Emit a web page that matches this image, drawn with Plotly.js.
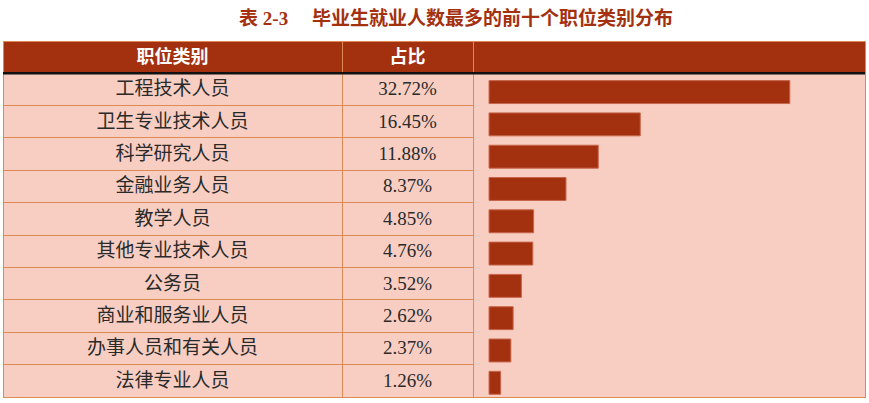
<!DOCTYPE html>
<html>
<head>
<meta charset="utf-8">
<script src="https://cdn.plot.ly/plotly-3.0.1.min.js"></script>
<style>html,body{margin:0;padding:0;background:#fff;}#chart{width:869px;height:403px;}</style>
</head>
<body>
<div id="chart"></div>
<script>
var categories = ['工程技术人员','卫生专业技术人员','科学研究人员','金融业务人员','教学人员','其他专业技术人员','公务员','商业和服务业人员','办事人员和有关人员','法律专业人员'];
var values = [32.72,16.45,11.88,8.37,4.85,4.76,3.52,2.62,2.37,1.26];
var headers = ['职位类别','占比',''];
var titleText = '表 2-3　 毕业生就业人数最多的前十个职位类别分布';

var W = 869, H = 403;
var dark = '#A3300F', pink = '#F8CEC3', lineC = '#DE8A55';
var labels = values.map(function(v){return v.toFixed(2)+'%';});
var blanks = values.map(function(){return '';});

var tableTrace = {
  type: 'table',
  domain: {x: [3/W, 865/W], y: [1-398/H, 1-41/H]},
  columnwidth: [339, 131, 392],
  header: {
    values: headers,
    height: 32,
    align: 'center',
    fill: {color: dark},
    line: {color: lineC, width: 1},
    font: {family: 'Noto Sans CJK SC', size: 18, color: '#ffffff', weight: 'bold'}
  },
  cells: {
    values: [categories, labels, blanks],
    height: 32.4,
    align: 'center',
    fill: {color: [pink, pink, 'rgba(0,0,0,0)']},
    line: {color: [lineC, lineC, 'rgba(0,0,0,0)'], width: 1},
    font: {family: 'Liberation Serif, Noto Sans CJK SC', size: 19, color: '#2a2a2a'}
  }
};

var barTrace = {
  type: 'bar',
  orientation: 'h',
  x: values,
  y: categories,
  marker: {color: dark, line: {color: '#C8654A', width: 1}},
  hoverinfo: 'skip',
  showlegend: false
};

var layout = {
  width: W, height: H,
  margin: {l: 0, r: 0, t: 0, b: 0},
  paper_bgcolor: '#ffffff',
  plot_bgcolor: pink,
  title: {
    text: titleText,
    x: 456/W, xanchor: 'center',
    y: 1-18/H, yanchor: 'middle', yref: 'container',
    font: {family: 'Liberation Serif, Noto Sans CJK SC', size: 19, color: '#A3300F', weight: 'bold'}
  },
  xaxis: {
    domain: [473/W, 865/W],
    range: [-1.745, 40.9],
    showgrid: false, zeroline: false, showticklabels: false, ticks: '',
    showline: true, mirror: true, linecolor: lineC, linewidth: 1,
    fixedrange: true
  },
  yaxis: {
    domain: [1-397/H, 1-74/H],
    type: 'category',
    range: [9.44, -0.56],
    showgrid: false, zeroline: false, showticklabels: false, ticks: '',
    showline: true, mirror: true, linecolor: lineC, linewidth: 1,
    fixedrange: true
  },
  bargap: 0.29,
  shapes: [
    {type: 'rect', xref: 'paper', yref: 'paper', x0: 3/W, x1: 865/W, y0: 1-74.6/H, y1: 1-72/H,
     fillcolor: '#111111', line: {width: 0}, layer: 'above'}
  ]
};

Plotly.newPlot('chart', [barTrace, tableTrace], layout, {staticPlot: true, displayModeBar: false});
</script>
</body>
</html>
